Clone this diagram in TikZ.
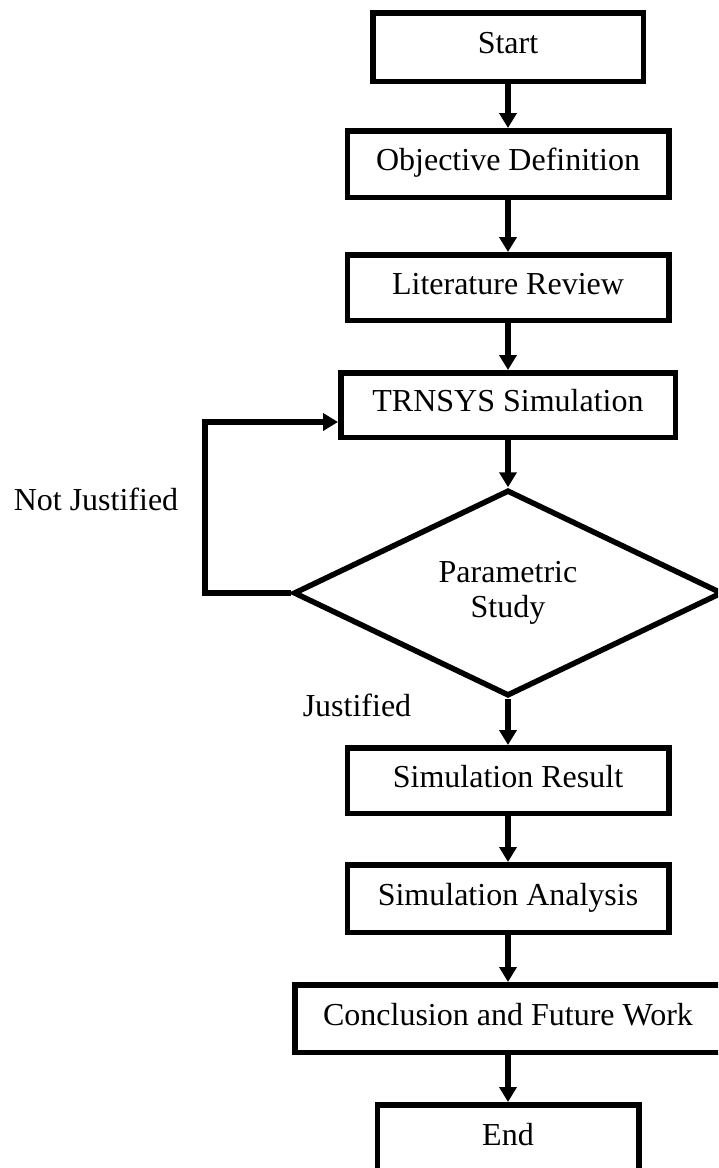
\documentclass[tikz,border=0pt]{standalone}
\usepackage{fontspec}
\setmainfont{Liberation Serif}
\usetikzlibrary{shapes.geometric,arrows.meta,calc}
\begin{document}
\begin{tikzpicture}[x=1pt,y=-1pt,
  txt/.style={font=\fontsize{32}{35}\selectfont},
  box/.style={txt, draw, line width=5.5pt, inner sep=0pt, text height=22pt, text depth=9pt, minimum width=#1},
  dec/.style={txt, draw, diamond, line width=5.5pt, inner sep=0pt, align=center, minimum width=429pt, minimum height=206pt},
  arr/.style={line width=5.5pt, -{Triangle[width=17pt,length=15pt]}}
]
\useasboundingbox (0,0) rectangle (718,1168);
\clip (0,0) rectangle (718,1168);
\node[box=270.5pt, minimum height=68.5pt] (start) at (508,47) {Start};
\node[box=321.5pt, minimum height=66.5pt] (obj) at (508,164) {Objective Definition};
\node[box=321.5pt, minimum height=65.5pt] (lit) at (508,287.5) {Literature Review};
\node[box=334.5pt, minimum height=64.5pt] (trn) at (508,405) {TRNSYS Simulation};
\node[dec] (par) at (508,593) {Parametric\\Study};
\node[box=321.5pt, minimum height=65.5pt] (res) at (508,780.5) {Simulation Result};
\node[box=321.5pt, minimum height=67.5pt] (ana) at (508,898.5) {Simulation Analysis};
\node[box=426.5pt, minimum height=67.5pt] (con) at (508,1018.5) {Conclusion and Future Work};
\node[box=261.5pt, minimum height=67.5pt] (fin) at (508,1138.5) {End};
\node[txt] (nj) at (96,499) {Not Justified};
\node[txt] (js) at (357,705) {Justified};
\coordinate (lp) at (205,0);
\coordinate (tin) at ($(trn.west)+(0,17)$);
\draw[arr] (start) -- (obj);
\draw[arr] (obj) -- (lit);
\draw[arr] (lit) -- (trn);
\draw[arr] (trn) -- (par);
\draw[arr] (par) -- (res);
\draw[arr] (res) -- (ana);
\draw[arr] (ana) -- (con);
\draw[arr] (con) -- (fin);
\draw[arr] (par.west) -- (par.west -| lp) |- (tin);
\end{tikzpicture}
\end{document}
